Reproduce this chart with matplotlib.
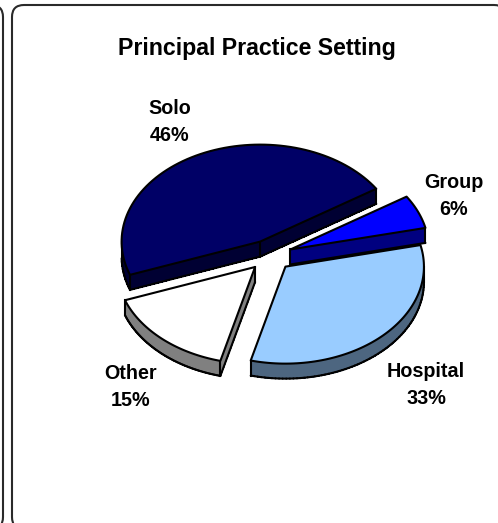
import numpy as np
import matplotlib
matplotlib.use('Agg')
from matplotlib import pyplot as plt
from matplotlib.patches import FancyBboxPatch, Polygon

plt.rcParams['font.family'] = ['Liberation Sans', 'DejaVu Sans']

title = 'Principal Practice Setting'
names = ['Solo', 'Other', 'Hospital', 'Group']
shares = [46.4, 15.4, 32.6, 5.6]
top_colors = ['#000066', '#FFFFFF', '#99CCFF', '#0000FF']
side_colors = ['#000033', '#808080', '#4D6680', '#000080']
label_pos = [(170, 122), (131, 387), (426, 385), (454, 196)]

start = 33.0
cx, cy = 270.0, 255.5
rx, ry = 138.5, 97.0
depth = 15
explode = 0.16
lw = 1.5

fig = plt.figure(figsize=(4.98, 5.23), dpi=100)
ax = fig.add_axes([0, 0, 1, 1])
ax.set_xlim(0, 498)
ax.set_ylim(523, 0)
ax.axis('off')

# outer panels, the image cuts them off at the right and bottom
ax.add_patch(FancyBboxPatch((-60, 5), 63, 524, boxstyle='round,pad=0,rounding_size=12',
                            fc='white', ec='#2a2a2a', lw=1.5))
ax.add_patch(FancyBboxPatch((12, 5), 494, 524, boxstyle='round,pad=0,rounding_size=12',
                            fc='white', ec='#2a2a2a', lw=1.5))

# angle of each slice, counter clockwise from start
edges = start + np.cumsum([0] + shares) * 3.6
slices = []
for i in range(len(shares)):
    t = np.radians(np.linspace(edges[i], edges[i + 1], 80))
    mid = np.radians((edges[i] + edges[i + 1]) / 2)
    ax0 = cx + explode * rx * np.cos(mid)
    ay0 = cy - explode * ry * np.sin(mid)
    xs = np.r_[ax0, ax0 + rx * np.cos(t)]
    ys = np.r_[ay0, ay0 - ry * np.sin(t)]
    tang = [a for a in (0, 180, 360) if edges[i] < a < edges[i + 1]]
    tang_pts = [(ax0 + rx * np.cos(np.radians(a)), ay0 - ry * np.sin(np.radians(a))) for a in tang]
    slices.append((xs, ys, tang_pts, i))

# back slices first
z = 3
for xs, ys, tang_pts, i in [slices[0], slices[3], slices[1], slices[2]]:
    pts = np.c_[xs, ys]
    low = pts + [0, depth]
    n = len(pts)
    # only walls running left to right face the viewer
    front = [pts[(k + 1) % n][0] > pts[k][0] for k in range(n)]
    for k in range(n):
        if not front[k]:
            continue
        m = (k + 1) % n
        ax.add_patch(Polygon([pts[k], pts[m], low[m], low[k]], fc=side_colors[i], ec=side_colors[i],
                             lw=0.5, antialiased=False, zorder=z))
        ax.plot([low[k][0], low[m][0]], [low[k][1], low[m][1]], color='black', lw=lw,
                solid_capstyle='round', zorder=z + 1)
    for k in (0, 1, n - 1):
        if front[k] or front[k - 1]:
            ax.plot([pts[k][0], low[k][0]], [pts[k][1], low[k][1]], color='black', lw=lw, zorder=z + 1)
    for px, py in tang_pts:
        ax.plot([px, px], [py, py + depth], color='black', lw=lw, zorder=z + 1)
    ax.add_patch(Polygon(pts, fc=top_colors[i], ec='black', lw=lw, joinstyle='round', zorder=z + 2))
    z += 3

ax.text(257, 48, title, ha='center', va='center', fontsize=16.7, fontweight='bold', zorder=z)
for name, share, (lx, ly) in zip(names, shares, label_pos):
    ax.text(lx, ly, f'{name}\n{share:.0f}%', ha='center', va='center', fontsize=14.2,
            fontweight='bold', linespacing=1.47, zorder=z)

fig.savefig('out.png', dpi=100)
